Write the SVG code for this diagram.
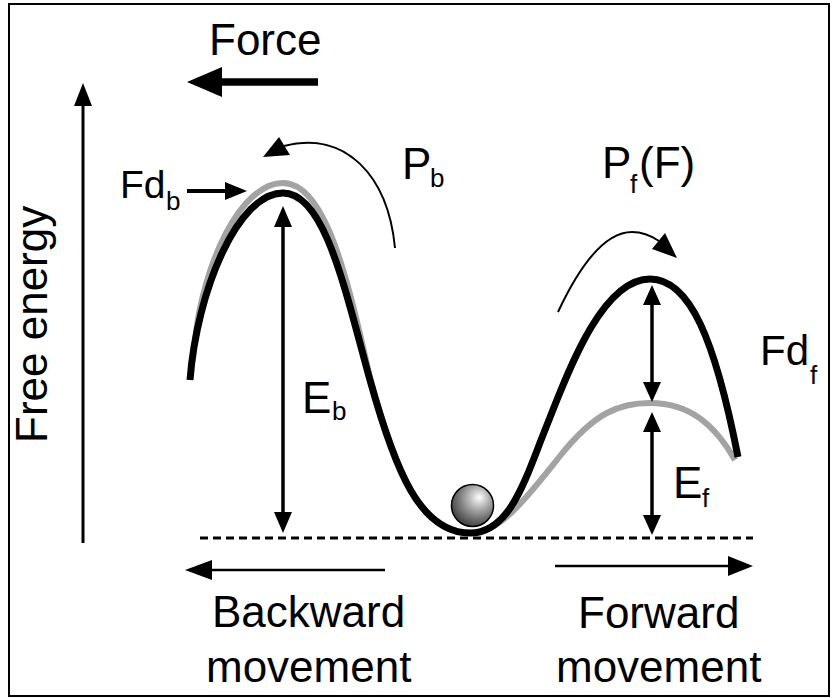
<svg xmlns="http://www.w3.org/2000/svg" width="836" height="698" viewBox="0 0 836 698">
<defs>
<radialGradient id="ballGrad" cx="0.62" cy="0.35" r="0.75" fx="0.66" fy="0.3">
<stop offset="0" stop-color="#ffffff"/>
<stop offset="0.25" stop-color="#c4c4c4"/>
<stop offset="0.6" stop-color="#7a7a7a"/>
<stop offset="1" stop-color="#303030"/>
</radialGradient>
<style>
.t{font-family:"Liberation Sans",Arial,sans-serif;fill:#000}
.big{font-size:44px}
.sub{font-size:26px}
.ln{stroke:#000;fill:none}
.hd{fill:#000;stroke:none}
</style>
</defs>
<rect width="836" height="698" fill="#fff"/>
<rect x="9" y="4" width="820" height="692" fill="none" stroke="#000" stroke-width="2"/>

<g id="energy-curves">
<path d="M195,340 C203,265 240,183 283,183 C325,183 347,275 370,378 C395,470 420,533 470,533 C500,533 525,500 560,456 C595,412 620,403 650,403 C690,403 715,425 735,460" stroke="#a3a3a3" stroke-width="6" fill="none"/>
<path d="M190,380 C197,290 238,193 283,193 C325,193 345,290 370,380 C395,470 420,533 470,533 C510,533 525,480 545,430 C565,380 600,279 650,279 C690,279 715,340 738,457" stroke="#000" stroke-width="7" fill="none"/>
</g>

<g id="baseline">
<line x1="200" y1="538" x2="753" y2="538" stroke="#000" stroke-width="3" stroke-dasharray="8,5"/>
</g>

<g id="ball">
<circle cx="472.5" cy="505.5" r="21" fill="url(#ballGrad)" stroke="#000" stroke-width="1.5"/>
</g>

<g id="connectors">
<!-- free energy axis -->
<line class="ln" x1="83" y1="543" x2="83" y2="100" stroke-width="3"/>
<polygon class="hd" points="83,83 74,106 92,106"/>
<!-- force arrow -->
<line class="ln" x1="318" y1="82" x2="215" y2="82" stroke-width="7.5"/>
<polygon class="hd" points="187,82 222,67 222,97"/>
<!-- Fd_b arrow -->
<line class="ln" x1="187" y1="191" x2="230" y2="191" stroke-width="4"/>
<polygon class="hd" points="247,191 225,182 225,200"/>
<!-- E_b double arrow -->
<line class="ln" x1="283" y1="222" x2="283" y2="517" stroke-width="3.5"/>
<polygon class="hd" points="283,206 274,227 292,227"/>
<polygon class="hd" points="283,533 274,512 292,512"/>
<!-- Fd_f double arrow -->
<line class="ln" x1="652" y1="300" x2="652" y2="387" stroke-width="3.5"/>
<polygon class="hd" points="652,285 643,305 661,305"/>
<polygon class="hd" points="652,402 643,382 661,382"/>
<!-- E_f double arrow -->
<line class="ln" x1="652" y1="427" x2="652" y2="520" stroke-width="3.5"/>
<polygon class="hd" points="652,412 643,432 661,432"/>
<polygon class="hd" points="652,535 643,515 661,515"/>
<!-- backward arrow -->
<line class="ln" x1="385" y1="570" x2="205" y2="570" stroke-width="2.5"/>
<polygon class="hd" points="185,570 212,560 212,580"/>
<!-- forward arrow -->
<line class="ln" x1="555" y1="566" x2="735" y2="566" stroke-width="2.5"/>
<polygon class="hd" points="753,566 728,556 728,576"/>
<!-- P_b curved arrow -->
<path class="ln" d="M395,248 C388,175 345,130 284,146" stroke-width="2"/>
<polygon class="hd" points="263,157 279,137 290,155"/>
<!-- P_f curved arrow -->
<path class="ln" d="M558,312 C580,265 605,232 632,232 C645,232 653,237 659,241" stroke-width="2"/>
<polygon class="hd" points="677,258 665,233 652,249"/>
</g>

<g id="labels">
<text class="t big" x="209" y="55">Force</text>
<text class="t big" transform="translate(47,443) rotate(-90)">Free energy</text>
<text class="t" x="120" y="198" font-size="39">Fd</text>
<text class="t sub" x="166" y="210">b</text>
<text class="t big" x="402" y="179">P</text>
<text class="t sub" x="430" y="187">b</text>
<text class="t big" x="602" y="178">P</text>
<text class="t sub" x="630" y="193">f</text>
<text class="t big" x="639" y="178">(F)</text>
<text class="t big" x="302" y="413">E</text>
<text class="t sub" x="332" y="420">b</text>
<text class="t" x="760" y="365" font-size="42">Fd</text>
<text class="t sub" x="810" y="384">f</text>
<text class="t big" x="673" y="498">E</text>
<text class="t sub" x="702" y="507">f</text>
<text class="t big" x="212" y="627">Backward</text>
<text class="t big" x="206" y="682">movement</text>
<text class="t big" x="578" y="628">Forward</text>
<text class="t big" x="556" y="682">movement</text>
</g>
</svg>
